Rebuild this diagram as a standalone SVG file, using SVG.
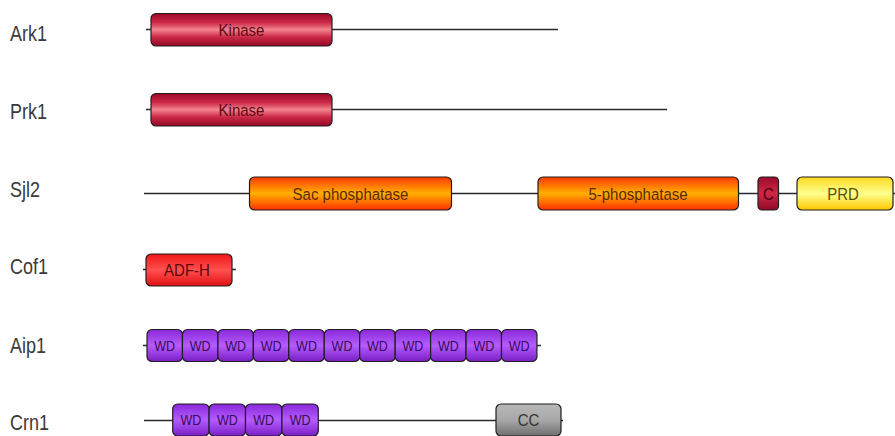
<svg xmlns="http://www.w3.org/2000/svg" width="895" height="436" viewBox="0 0 895 436">
  <defs>
    <linearGradient id="gKinase" x1="0" y1="0" x2="0" y2="1">
      <stop offset="0" stop-color="#9a0826"/>
      <stop offset="0.28" stop-color="#cc2a48"/>
      <stop offset="0.5" stop-color="#f4848f"/>
      <stop offset="0.72" stop-color="#cc2a48"/>
      <stop offset="1" stop-color="#920622"/>
    </linearGradient>
    <linearGradient id="gPhos" x1="0" y1="0" x2="0" y2="1">
      <stop offset="0" stop-color="#ff3a00"/>
      <stop offset="0.5" stop-color="#ffb000"/>
      <stop offset="1" stop-color="#ff3000"/>
    </linearGradient>
    <linearGradient id="gC" x1="0" y1="0" x2="0" y2="1">
      <stop offset="0" stop-color="#9a0a2a"/>
      <stop offset="0.5" stop-color="#d02848"/>
      <stop offset="1" stop-color="#900826"/>
    </linearGradient>
    <linearGradient id="gPRD" x1="0" y1="0" x2="0" y2="1">
      <stop offset="0" stop-color="#ffd820"/>
      <stop offset="0.5" stop-color="#ffff90"/>
      <stop offset="1" stop-color="#ffc800"/>
    </linearGradient>
    <linearGradient id="gADF" x1="0" y1="0" x2="0" y2="1">
      <stop offset="0" stop-color="#f01818"/>
      <stop offset="0.5" stop-color="#ff5050"/>
      <stop offset="1" stop-color="#e01010"/>
    </linearGradient>
    <linearGradient id="gWD" x1="0" y1="0" x2="0" y2="1">
      <stop offset="0" stop-color="#8a28d8"/>
      <stop offset="0.5" stop-color="#b45cff"/>
      <stop offset="1" stop-color="#7a1ec4"/>
    </linearGradient>
    <linearGradient id="gCC" x1="0" y1="0" x2="0" y2="1">
      <stop offset="0" stop-color="#b8b8b8"/>
      <stop offset="0.5" stop-color="#a8a8a8"/>
      <stop offset="1" stop-color="#6e6e6e"/>
    </linearGradient>
  </defs>
  <style>
    .bb { stroke: #2a2a2a; stroke-width: 1.5; fill: none; }
    .dom { stroke: #1e1e1e; stroke-width: 1.2; }
    .name { font-family: "Liberation Sans", Arial, sans-serif; font-size: 18px; fill: #3a3a3a; }
    .lab { font-family: "Liberation Sans", Arial, sans-serif; font-size: 15px; text-anchor: middle; }
    .wd { font-size: 12.5px; }
    .kin { fill: #5a0c1c; }
    .pho { fill: #5a2a00; }
    .prd { fill: #5a5000; }
    .adf { fill: #5a0808; }
    .wdt { fill: #3a0a5a; }
    .cct { fill: #333333; }
    .ct { fill: #4a0012; }
  </style>

  <!-- protein backbones -->
  <g id="backbones">
    <line class="bb" x1="146" y1="29.5" x2="558" y2="29.5"/>
    <line class="bb" x1="146" y1="109.5" x2="667" y2="109.5"/>
    <line class="bb" x1="144" y1="193.5" x2="895" y2="193.5"/>
    <line class="bb" x1="143" y1="269.5" x2="236" y2="269.5"/>
    <line class="bb" x1="143" y1="345.5" x2="541" y2="345.5"/>
    <line class="bb" x1="144" y1="420.5" x2="563" y2="420.5"/>
  </g>

  <g id="Ark1">
    <text class="name" transform="translate(10 40.5) scale(1 1.18)">Ark1</text>
    <rect class="dom" x="151" y="13.5" width="181" height="32.5" rx="5" fill="url(#gKinase)"/>
    <text class="lab kin" transform="translate(241.5 35.5) scale(1 1.15)">Kinase</text>
  </g>

  <g id="Prk1">
    <text class="name" transform="translate(10 118.5) scale(1 1.18)">Prk1</text>
    <rect class="dom" x="151" y="93.5" width="181" height="32.5" rx="5" fill="url(#gKinase)"/>
    <text class="lab kin" transform="translate(241.5 115.5) scale(1 1.15)">Kinase</text>
  </g>

  <g id="Sjl2">
    <text class="name" transform="translate(10 196.5) scale(1 1.18)">Sjl2</text>
    <rect class="dom" x="249.5" y="177" width="202" height="33" rx="5" fill="url(#gPhos)"/>
    <text class="lab pho" transform="translate(350.5 199.5) scale(1 1.15)">Sac phosphatase</text>
    <rect class="dom" x="538" y="177" width="200.5" height="33" rx="5" fill="url(#gPhos)"/>
    <text class="lab pho" transform="translate(638 199.5) scale(1 1.15)">5-phosphatase</text>
    <rect class="dom" x="758" y="177" width="20.5" height="33" rx="4" fill="url(#gC)"/>
    <text class="lab ct" transform="translate(768.3 199.5) scale(1 1.15)">C</text>
    <rect class="dom" x="797" y="177" width="96" height="33" rx="5" fill="url(#gPRD)"/>
    <text class="lab prd" transform="translate(843 199.5) scale(1 1.15)">PRD</text>
  </g>

  <g id="Cof1">
    <text class="name" transform="translate(10 273.5) scale(1 1.18)">Cof1</text>
    <rect class="dom" x="146" y="254" width="86" height="32" rx="5" fill="url(#gADF)"/>
    <text class="lab adf" transform="translate(187 276) scale(1 1.15)">ADF-H</text>
  </g>

  <g id="Aip1">
    <text class="name" transform="translate(10 352.5) scale(1 1.18)">Aip1</text>
    <g fill="url(#gWD)">
      <rect class="dom" x="147" y="329.5" width="35.45" height="32" rx="5"/>
      <rect class="dom" x="182.45" y="329.5" width="35.45" height="32" rx="5"/>
      <rect class="dom" x="217.9" y="329.5" width="35.45" height="32" rx="5"/>
      <rect class="dom" x="253.35" y="329.5" width="35.45" height="32" rx="5"/>
      <rect class="dom" x="288.8" y="329.5" width="35.45" height="32" rx="5"/>
      <rect class="dom" x="324.25" y="329.5" width="35.45" height="32" rx="5"/>
      <rect class="dom" x="359.7" y="329.5" width="35.45" height="32" rx="5"/>
      <rect class="dom" x="395.15" y="329.5" width="35.45" height="32" rx="5"/>
      <rect class="dom" x="430.6" y="329.5" width="35.45" height="32" rx="5"/>
      <rect class="dom" x="466.05" y="329.5" width="35.45" height="32" rx="5"/>
      <rect class="dom" x="501.5" y="329.5" width="35.45" height="32" rx="5"/>
    </g>
    <g class="lab wd wdt">
      <text transform="translate(164.7 350.5) scale(1 1.15)">WD</text>
      <text transform="translate(200.2 350.5) scale(1 1.15)">WD</text>
      <text transform="translate(235.6 350.5) scale(1 1.15)">WD</text>
      <text transform="translate(271.1 350.5) scale(1 1.15)">WD</text>
      <text transform="translate(306.5 350.5) scale(1 1.15)">WD</text>
      <text transform="translate(342 350.5) scale(1 1.15)">WD</text>
      <text transform="translate(377.4 350.5) scale(1 1.15)">WD</text>
      <text transform="translate(412.9 350.5) scale(1 1.15)">WD</text>
      <text transform="translate(448.3 350.5) scale(1 1.15)">WD</text>
      <text transform="translate(483.8 350.5) scale(1 1.15)">WD</text>
      <text transform="translate(519.2 350.5) scale(1 1.15)">WD</text>
    </g>
  </g>

  <g id="Crn1">
    <text class="name" transform="translate(10 429.5) scale(1 1.18)">Crn1</text>
    <g fill="url(#gWD)">
      <rect class="dom" x="172.7" y="404" width="36.4" height="32" rx="5"/>
      <rect class="dom" x="209.1" y="404" width="36.4" height="32" rx="5"/>
      <rect class="dom" x="245.5" y="404" width="36.4" height="32" rx="5"/>
      <rect class="dom" x="281.9" y="404" width="36.4" height="32" rx="5"/>
    </g>
    <g class="lab wd wdt">
      <text transform="translate(190.9 425) scale(1 1.15)">WD</text>
      <text transform="translate(227.3 425) scale(1 1.15)">WD</text>
      <text transform="translate(263.7 425) scale(1 1.15)">WD</text>
      <text transform="translate(300.1 425) scale(1 1.15)">WD</text>
    </g>
    <rect class="dom" x="496" y="404" width="65" height="32" rx="5" fill="url(#gCC)"/>
    <text class="lab cct" transform="translate(528.5 425.5) scale(1 1.15)">CC</text>
  </g>
</svg>
